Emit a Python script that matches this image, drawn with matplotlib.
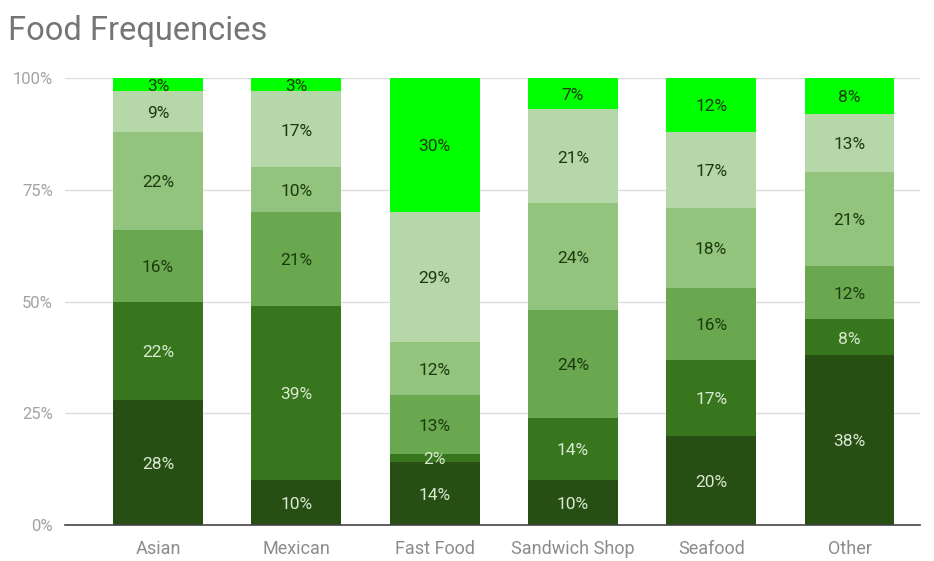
import numpy as np
import matplotlib
matplotlib.use("Agg")
import matplotlib.pyplot as plt

plt.rcParams['font.family'] = ['Roboto', 'DejaVu Sans']

categories = ["Asian", "Mexican", "Fast Food", "Sandwich Shop", "Seafood", "Other"]

# one list per stack level, bottom to top (percent)
level1 = [28, 10, 14, 10, 20, 38]
level2 = [22, 39, 2, 14, 17, 8]
level3 = [16, 21, 13, 24, 16, 12]
level4 = [22, 10, 12, 24, 18, 21]
level5 = [9, 17, 29, 21, 17, 13]
level6 = [3, 3, 30, 7, 12, 8]

levels = [level1, level2, level3, level4, level5, level6]
colors = ["#274e13", "#38761d", "#6aa84f", "#93c47d", "#b6d7a8", "#00ff00"]
text_colors = ["#d9ead3", "#d9ead3", "#1b3a0e", "#1b3a0e", "#1b3a0e", "#1b3a0e"]

fig = plt.figure(figsize=(9.34, 5.61), dpi=100)
ax = fig.add_axes([0.07, 0.064, 0.915, 0.797])

x = np.arange(len(categories))
bottom = np.zeros(len(categories))
for vals, col, tcol in zip(levels, colors, text_colors):
    vals = np.array(vals, dtype=float)
    bars = ax.bar(x, vals, 0.65, bottom=bottom, color=col, zorder=2)
    for xi, b, v in zip(x, bottom, vals):
        ax.text(xi, b + v / 2 - 0.4, f"{int(v)}%", ha="center", va="center",
                fontsize=12.5, color=tcol, zorder=3)
    bottom += vals

ax.set_xlim(-0.67, 5.51)
ax.set_ylim(0, 100)
ax.set_yticks([0, 25, 50, 75, 100])
ax.set_yticklabels(["0%", "25%", "50%", "75%", "100%"])
ax.set_xticks(x)
ax.set_xticklabels(categories)
ax.tick_params(axis="y", length=0, labelsize=12, labelcolor="#a3a3a3", pad=9)
ax.tick_params(axis="x", length=0, labelsize=13, labelcolor="#8c8c8c", pad=11)

ax.grid(axis="y", color="#dddddd", linewidth=1, zorder=0)
for s in ["top", "right", "left"]:
    ax.spines[s].set_visible(False)
ax.spines["bottom"].set_color("#444444")
ax.spines["bottom"].set_linewidth(1.2)
ax.spines["bottom"].set_zorder(4)

fig.text(0.009, 0.945, "Food Frequencies", fontsize=23.5, color="#757575",
         ha="left", va="center")

fig.savefig("out.png", dpi=100)
